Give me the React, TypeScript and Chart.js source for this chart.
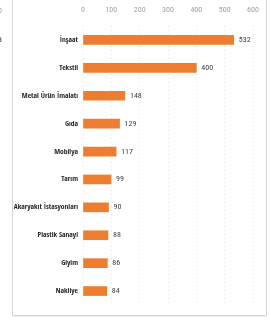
import React, { useEffect, useRef } from "react";
import { Chart, registerables } from "chart.js";

Chart.register(...registerables);

const categories = [
  "İnşaat",
  "Tekstil",
  "Metal Ürün İmalatı",
  "Gıda",
  "Mobilya",
  "Tarım",
  "Akaryakıt İstasyonları",
  "Plastik Sanayi",
  "Giyim",
  "Nakliye",
];
const values = [532, 400, 148, 129, 117, 99, 90, 88, 86, 84];
const xTicks = [0, 100, 200, 300, 400, 500, 600];

const FONT = "'Open Sans Condensed', 'Roboto Condensed', 'DejaVu Sans Condensed', sans-serif";
const FONT_REG = "'Roboto Condensed', 'DejaVu Sans Condensed', sans-serif";

const framePlugin = {
  id: "frame",
  beforeDraw(chart: any) {
    const ctx = chart.ctx;
    ctx.save();
    ctx.fillStyle = "#ffffff";
    ctx.fillRect(0, 0, chart.width, chart.height);
    ctx.strokeStyle = "#d6d6d6";
    ctx.lineWidth = 1;
    ctx.beginPath();
    ctx.moveTo(12.5, 0);
    ctx.lineTo(12.5, 315.5);
    ctx.lineTo(266.5, 315.5);
    ctx.lineTo(266.5, 0);
    ctx.stroke();
    ctx.strokeStyle = "#ececec";
    ctx.beginPath();
    ctx.moveTo(13, 316.5);
    ctx.lineTo(267, 316.5);
    ctx.stroke();
    // remnants of neighbouring chart
    ctx.font = `8px ${FONT_REG}`;
    ctx.textBaseline = "middle";
    ctx.textAlign = "left";
    ctx.fillStyle = "#9a9a9a";
    ctx.fillText("0", -2, 11);
    ctx.fillStyle = "#333333";
    ctx.fillText("3", -2, 40);
    ctx.restore();
  },
};

const labelPlugin = {
  id: "valueLabels",
  afterDatasetsDraw(chart: any) {
    const ctx = chart.ctx;
    const meta = chart.getDatasetMeta(0);
    ctx.save();
    ctx.font = `8px ${FONT_REG}`;
    ctx.fillStyle = "#404040";
    ctx.textAlign = "left";
    ctx.textBaseline = "middle";
    meta.data.forEach((bar: any, i: number) => {
      ctx.fillText(String(values[i]), bar.x + 5, bar.y);
    });
    ctx.restore();
  },
};

export default function App() {
  const ref = useRef<HTMLCanvasElement>(null);
  useEffect(() => {
    if (!ref.current) return;
    const chart = new Chart(ref.current, {
      type: "bar",
      data: {
        labels: categories,
        datasets: [
          {
            data: values,
            backgroundColor: "#ED7D31",
            barThickness: 9,
          },
        ],
      },
      options: {
        indexAxis: "y",
        animation: false,
        responsive: false,
        maintainAspectRatio: false,
        layout: { padding: { left: 0, right: 18, top: 0, bottom: 19 } },
        plugins: {
          legend: { display: false },
          tooltip: { enabled: false },
        },
        scales: {
          x: {
            position: "top",
            min: 0,
            max: 600,
            afterBuildTicks(scale: any) {
              scale.ticks = xTicks.map((v) => ({ value: v }));
            },
            afterFit(scale: any) {
              scale.height = 26;
            },
            border: { display: false, dash: [1, 3] },
            grid: {
              color: "#e2e2e2",
              drawTicks: false,
            },
            ticks: {
              color: "#a0a0a0",
              font: { family: FONT_REG, size: 8 },
              padding: 11,
            },
          },
          y: {
            afterFit(scale: any) {
              scale.width = 83;
            },
            border: { display: false },
            grid: { display: false, drawTicks: false },
            ticks: {
              color: "#262626",
              font: { family: FONT, size: 7.5, weight: "bold" },
              padding: 5,
              autoSkip: false,
            },
          },
        },
      } as any,
      plugins: [framePlugin, labelPlugin],
    });
    return () => chart.destroy();
  }, []);
  return (
    <div style={{ position: "absolute", left: 0, top: 0, width: 271, height: 324 }}>
      <canvas ref={ref} width={271} height={324} style={{ display: "block" }} />
    </div>
  );
}
